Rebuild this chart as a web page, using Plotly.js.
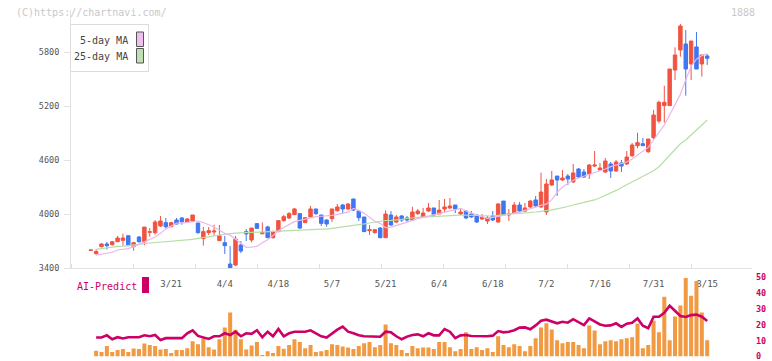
<!DOCTYPE html>
<html>
<head>
<meta charset="utf-8">
<script src="https://cdn.plot.ly/plotly-3.0.1.min.js"></script>
<style>html,body{margin:0;padding:0;background:#fff;}#chart{width:772px;height:361px;}</style>
</head>
<body>
<div id="chart"></div>
<script>
// ---- data ----
const tickLabels = ['3/21','4/4','4/18','5/7','5/21','6/4','6/18','7/2','7/16','7/31','8/15'];
const tickIndex  = [15,25,35,45,55,65,75,85,95,105,115];

const openP = [3596,3560,3637,3667,3659,3692,3707,3759,3637,3744,3692,3797,3793,3867,3904,3859,3933,3956,3911,3922,
3900,3726,3793,3800,3704,3681,3444,3433,3656,3804,3711,3893,3781,3856,3737,3804,3926,3956,3993,4004,
3904,3967,4056,3989,3933,3948,4037,4100,4056,4167,4033,3967,3815,3793,3844,3737,3989,3911,3978,3956,
3933,4004,3967,4033,4067,4000,4056,4067,4100,4000,4033,4000,3989,3944,3922,3978,3911,4144,3989,4011,
4100,4033,4078,4156,4078,4022,4322,4422,4378,4422,4356,4500,4467,4444,4533,4489,4467,4556,4478,4567,
4556,4648,4759,4781,4692,4848,5033,5204,5204,5600,5822,5889,5667,5856,5667,5756];
const highP = [3600,3607,3674,3689,3700,3756,3781,3759,3689,3756,3855,3844,3933,3978,3956,3911,3956,3967,3956,3989,
3900,3856,3856,3881,3878,3756,3644,3756,3700,3833,3844,3900,3907,3870,3815,3933,3989,4022,4067,4011,
3967,4089,4056,3989,3944,4056,4111,4111,4122,4167,4044,3967,3878,3833,3856,4040,4033,3989,3989,3978,
4081,4056,4067,4122,4067,4156,4167,4178,4100,4067,4044,4033,3989,4000,3978,4033,4122,4144,4056,4133,
4133,4122,4156,4200,4459,4389,4478,4422,4489,4444,4556,4511,4500,4556,4700,4567,4622,4578,4600,4600,
4700,4789,4904,4844,4833,5156,5260,5425,5611,5852,6111,6044,5922,6022,5767,5778];
const lowP = [3596,3544,3630,3604,3648,3689,3648,3648,3592,3681,3652,3748,3770,3856,3837,3852,3885,3881,3900,3915,
3781,3648,3767,3759,3704,3556,3396,3422,3567,3700,3685,3833,3774,3737,3726,3804,3915,3944,3989,3833,
3900,3956,3989,3867,3859,3911,4026,4000,4044,4033,3922,3800,3767,3781,3730,3737,3870,3900,3911,3911,
3930,3989,3967,4022,3978,4000,4011,4056,4011,3989,3944,3956,3900,3933,3889,3922,3900,3978,3922,4000,
4022,4022,4067,4078,4067,3989,4311,4200,4367,4322,4344,4400,4400,4389,4522,4478,4456,4400,4467,4467,
4544,4633,4730,4756,4680,4833,5008,5015,5200,5489,5748,5315,5489,5611,5526,5656];
const closeP = [3600,3583,3667,3648,3692,3733,3733,3648,3681,3692,3855,3802,3911,3922,3859,3904,3889,3915,3944,3989,
3793,3804,3815,3811,3759,3648,3400,3722,3589,3778,3844,3841,3796,3737,3804,3926,3970,4004,4056,3844,
3959,4056,4004,3896,3889,4056,4078,4056,4111,4044,3959,3804,3826,3826,3737,4000,3878,3967,3933,3933,
4022,4033,4011,4067,3989,4044,4078,4089,4056,4022,3956,3967,3911,3967,3956,3933,4111,3989,4000,4100,
4033,4067,4144,4089,4244,4333,4378,4378,4400,4389,4456,4411,4411,4544,4544,4511,4589,4478,4578,4533,
4633,4767,4793,4759,4833,5100,5241,5241,5611,5767,6089,5611,5922,5611,5767,5730];

const ma5 = [null,3544,3556,3563,3575,3600,3608,3615,3637,3665,3690,3715,3745,3785,3835,3865,3900,3898,3905,3918,
3922,3905,3880,3855,3820,3785,3765,3720,3680,3630,3633,3640,3680,3715,3760,3815,3850,3880,3915,3930,
3945,3963,3970,3975,3978,3985,3995,4005,4020,4063,4040,4007,3960,3920,3896,3848,3855,3870,3890,3910,
3933,3948,3963,3978,3995,4010,4026,4040,4055,4063,4035,4010,3989,3970,3952,3962,3970,3985,4000,4007,
4020,4040,4060,4080,4095,4110,4160,4240,4300,4340,4375,4400,4420,4440,4452,4480,4500,4526,4545,4565,
4578,4610,4650,4693,4740,4822,4900,4990,5100,5220,5330,5490,5640,5720,5760,5780];
const ma25 = [null,3607,3615,3625,3637,3640,3644,3648,3655,3663,3672,3677,3681,3685,3689,3692,3695,3700,3707,3718,
3730,3740,3750,3758,3767,3775,3783,3787,3790,3793,3796,3800,3804,3807,3811,3815,3817,3819,3822,3826,
3830,3833,3833,3833,3833,3840,3848,3856,3865,3874,3882,3890,3900,3912,3922,3928,3930,3932,3940,3950,
3959,3962,3965,3967,3971,3974,3978,3982,3985,3989,3986,3983,3980,3978,3978,3978,3985,3993,4000,4004,
4007,4010,4014,4022,4030,4035,4045,4057,4067,4083,4100,4119,4130,4143,4156,4180,4205,4230,4262,4295,
4327,4359,4390,4420,4450,4480,4525,4590,4650,4720,4780,4822,4880,4935,4990,5044];

const volume = [null,3.6,2.8,6.6,2.8,4.1,4.7,2.8,5.1,4.7,8.2,7.2,6.6,4.5,4.7,2.2,4.1,4.1,5.3,9.7,
7.8,11.6,5.9,4.5,10.9,18.4,27.8,17,10.9,4.5,7,9.1,0.9,3.4,2.2,6.6,4.9,7.2,10.9,9.1,
5.3,7.2,2.8,3.4,4.1,7.8,7.2,6.4,5.7,4.7,6.6,8.4,9.1,5.9,7.2,20.3,8.4,7.2,4.1,2.2,
6.6,5.3,5.7,5.7,4.7,9.1,9.1,5.9,3.4,4.7,15.3,4.7,5.9,4.1,5.3,2.8,12.8,7.2,5.9,7.8,
6.6,3.4,6.6,11.6,18.4,21.1,17.1,10.3,8.4,9.1,9.1,7.2,5.3,19.6,16.5,7.8,9.7,10.3,9.7,10.9,
11.6,12.2,20.9,5.3,7.2,22.7,15.3,37.8,10.3,25.3,32.2,49.7,38.4,47.8,27.8,10.3];
const aiPredict = [null,12,12,13.4,10.9,12.2,11.4,12.2,12.2,12.2,13.4,12.8,13.6,10.5,11.6,11.6,11.6,11.6,14.7,16.6,
13,12.2,11.1,12.8,12.8,14.7,13.6,15.7,12.8,14.7,14.3,16.6,12.2,15.7,12.8,17.4,12.8,14.7,15.7,15.7,
15.7,16.6,14.7,12.8,12,14.7,17,18.9,15.7,14.7,13.4,12.8,12.8,12.8,12.5,15.7,15.3,12.8,10.9,12.6,
13.6,14,12.8,14.7,13.4,13.4,17.4,15.7,11.6,13.4,13.6,13,12.8,12.8,12.8,13.2,16.1,15.3,15.7,16.6,
18.3,18.4,17.2,19.7,22.6,23.3,22,21,22,21.4,23.6,22,19.9,24.1,22,20.3,19.5,19.7,21,18.7,
20.8,21.4,24.1,19.5,17.9,25.2,25.2,27.7,32.1,28.8,25.6,25,26.2,26.5,25.2,22.5];

const idx = closeP.map((_, i) => i);

// ---- styling / layout helpers ----
const W = 772, H = 361;
const L = 71, R = 20, T = 10, B = 2;
const PW = W - L - R, PH = H - T - B;
const fx = p => (p - L) / PW;
const fy = p => (H - B - p) / PH;
const mono = 'DejaVu Sans Mono, Liberation Mono, monospace';
const RED = '#f05440', BLUE = '#4076f0', MAG = '#cc0066';

const traces = [
  {type:'scatter', mode:'lines', x: idx, y: ma25, xaxis:'x', yaxis:'y',
   line:{color:'#b6dea6', width:1.2}, hoverinfo:'skip', showlegend:false},
  {type:'scatter', mode:'lines', x: idx, y: ma5, xaxis:'x', yaxis:'y',
   line:{color:'#ecb6ec', width:1.2}, hoverinfo:'skip', showlegend:false},
  {type:'candlestick', x: idx, open: openP, high: highP, low: lowP, close: closeP,
   xaxis:'x', yaxis:'y', whiskerwidth:0,
   increasing:{line:{color:RED, width:1}, fillcolor:RED},
   decreasing:{line:{color:BLUE, width:1}, fillcolor:BLUE},
   hoverinfo:'skip', showlegend:false},
  {type:'bar', x: idx, y: volume, xaxis:'x', yaxis:'y2', width:0.75,
   marker:{color:'#f29a42', line:{width:0}}, hoverinfo:'skip', showlegend:false},
  {type:'scatter', mode:'lines', x: idx, y: aiPredict, xaxis:'x', yaxis:'y2',
   line:{color:MAG, width:2.6}, hoverinfo:'skip', showlegend:false}
];

const xLeft = -3.69, xRight = 123.36;
const mainBottom = fy(268), mainTop = fy(T);
const yLow = 3400, yHigh = 3400 + (268 - T) * (600 / 54);
const volBottom = fy(356.5), volTop = fy(277.5);

const layout = {
  width: W, height: H,
  margin: {l: L, r: R, t: T, b: B, pad: 0},
  paper_bgcolor: '#ffffff', plot_bgcolor: '#ffffff',
  showlegend: false,
  boxgap: 0.08,
  bargap: 0.2,
  xaxis: {
    domain: [0, 1], anchor: 'y', range: [xLeft, xRight],
    tickmode: 'array', tickvals: tickIndex, ticktext: tickLabels,
    ticks: '', showgrid: false, zeroline: false,
    showline: true, linecolor: '#e2e2e2', linewidth: 1,
    tickfont: {family: mono, size: 9, color: '#555555'},
    ticklabelstandoff: 7,
    minor: {tickmode: 'linear', tick0: xLeft, dtick: (62 / 5.36), ticks: 'inside', ticklen: 4, tickcolor: '#dedede', tickwidth: 1, showgrid: false},
    rangeslider: {visible: false}, fixedrange: true
  },
  yaxis: {
    domain: [mainBottom, mainTop], anchor: 'x', range: [yLow, yHigh],
    tickmode: 'array', tickvals: [3400, 4000, 4600, 5200, 5800],
    ticks: 'outside', ticklen: 6, tickcolor: '#e2e2e2',
    showgrid: false, zeroline: false,
    showline: true, linecolor: '#e2e2e2', linewidth: 1,
    tickfont: {family: mono, size: 8.5, color: '#555555'},
    ticklabelstandoff: 3, fixedrange: true
  },
  yaxis2: {
    domain: [volBottom, volTop], anchor: 'x', side: 'right', range: [0, 50],
    tickmode: 'array', tickvals: [0, 10, 20, 30, 40, 50],
    ticks: '', showgrid: false, zeroline: false, showline: false,
    tickfont: {family: mono, size: 8.5, color: MAG, weight: 'bold'},
    ticklabeloverflow: 'allow',
    ticklabelstandoff: 3, fixedrange: true
  },
  shapes: [
    {type:'rect', xref:'paper', yref:'paper', x0: fx(70.5), x1: fx(148.5), y0: fy(71.5), y1: fy(24.5),
     line:{color:'#dcdcdc', width:1}, fillcolor:'#ffffff', layer:'above'},
    {type:'rect', xref:'paper', yref:'paper', x0: fx(136.5), x1: fx(143.5), y0: fy(46.5), y1: fy(32),
     line:{color:'#555555', width:1}, fillcolor:'#f0bff0', layer:'above'},
    {type:'rect', xref:'paper', yref:'paper', x0: fx(136.5), x1: fx(143.5), y0: fy(63), y1: fy(48.5),
     line:{color:'#555555', width:1}, fillcolor:'#bfe0b0', layer:'above'},
    {type:'rect', xref:'paper', yref:'paper', x0: fx(142), x1: fx(149), y0: fy(293), y1: fy(277),
     line:{width:0}, fillcolor:MAG, layer:'above'}
  ],
  annotations: [
    {xref:'paper', yref:'paper', x: fx(14), y: fy(12.5), xanchor:'left', yanchor:'middle', showarrow:false,
     text:'(C)https://chartnavi.com/', font:{family: mono, size: 10, color:'#c8c8c8'}},
    {xref:'paper', yref:'paper', x: fx(757), y: fy(12.5), xanchor:'right', yanchor:'middle', showarrow:false,
     text:'1888', font:{family: mono, size: 10, color:'#c8c8c8'}},
    {xref:'paper', yref:'paper', x: fx(130), y: fy(40.5), xanchor:'right', yanchor:'middle', showarrow:false,
     text:'5-day MA', font:{family: mono, size: 10, color:'#444444'}},
    {xref:'paper', yref:'paper', x: fx(130), y: fy(57), xanchor:'right', yanchor:'middle', showarrow:false,
     text:'25-day MA', font:{family: mono, size: 10, color:'#444444'}},
    {xref:'paper', yref:'paper', x: fx(75), y: fy(286), xanchor:'left', yanchor:'middle', showarrow:false,
     text:'AI-Predict', font:{family: mono, size: 10, color: MAG}}
  ]
};

Plotly.newPlot('chart', traces, layout, {displayModeBar: false, staticPlot: true});
</script>
</body>
</html>
